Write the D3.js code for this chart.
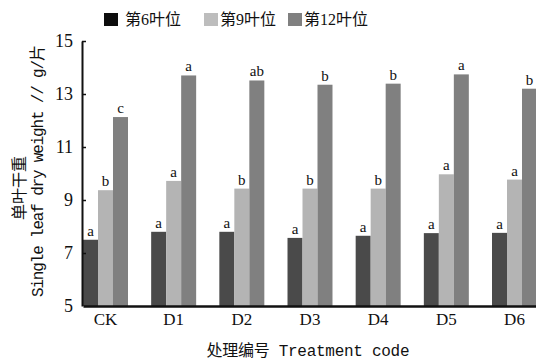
<!DOCTYPE html>
<html>
<head>
<meta charset="utf-8">
<script src="https://cdn.jsdelivr.net/npm/d3@7/dist/d3.min.js"></script>
<style>
  html, body { margin: 0; padding: 0; background: #fff; }
  svg { display: block; }
  text { fill: #111; }
</style>
</head>
<body>
<svg id="chart" width="536" height="360"></svg>
<script>
// Treatments and leaf positions
const categories = ["CK", "D1", "D2", "D3", "D4", "D5", "D6"];
const seriesNames = ["第6叶位", "第9叶位", "第12叶位"];

// Single leaf dry weight (g per leaf)
const leaf6 = [7.50, 7.80, 7.80, 7.57, 7.65, 7.75, 7.76];
const leaf9 = [9.37, 9.72, 9.43, 9.43, 9.43, 9.97, 9.77];
const leaf12 = [12.13, 13.70, 13.51, 13.35, 13.39, 13.74, 13.20];

// Significance letters
const sig6 = ["a", "a", "a", "a", "a", "a", "a"];
const sig9 = ["b", "a", "b", "b", "b", "a", "a"];
const sig12 = ["c", "a", "ab", "b", "b", "a", "b"];

const yTicks = [5, 7, 9, 11, 13, 15];

const barColors = ["#4a4a4a", "#b4b4b4", "#808080"];
const legendColors = ["#0d0d0d", "#bdbdbd", "#808080"];
const serifFont = "'Liberation Serif', 'Noto Sans CJK SC', serif";
const titleFont = "'Liberation Mono', 'Noto Sans CJK SC', monospace";

const seriesValues = [leaf6, leaf9, leaf12];
const seriesSig = [sig6, sig9, sig12];

const svg = d3.select("#chart");

const x = d3.scaleBand().domain(categories).range([83, 537]).paddingInner(0.34).paddingOuter(0);
const xs = d3.scaleBand().domain(d3.range(seriesNames.length)).range([0, x.bandwidth()]);
const y = d3.scaleLinear().domain([5, 15]).range([306, 41]);

// Bars grouped by treatment
const groups = svg.append("g").selectAll("g")
  .data(categories)
  .join("g")
  .attr("transform", d => `translate(${x(d)},0)`);

groups.selectAll("rect")
  .data((c, i) => seriesValues.map((vals, s) => ({ s, v: vals[i], sig: seriesSig[s][i] })))
  .join("rect")
  .attr("x", d => xs(d.s))
  .attr("y", d => y(d.v))
  .attr("width", xs.bandwidth())
  .attr("height", d => y(5) - y(d.v))
  .attr("fill", d => barColors[d.s]);

groups.selectAll("text.sig")
  .data((c, i) => seriesValues.map((vals, s) => ({ s, v: vals[i], sig: seriesSig[s][i] })))
  .join("text")
  .attr("class", "sig")
  .attr("x", d => xs(d.s) + xs.bandwidth() / 2)
  .attr("y", d => y(d.v) - 4)
  .attr("text-anchor", "middle")
  .style("font-family", serifFont)
  .style("font-size", "15px")
  .text(d => d.sig);

// Y axis with inward ticks
const yAxis = svg.append("g")
  .attr("transform", `translate(${x.range()[0] - 1},0)`)
  .call(d3.axisLeft(y).tickValues(yTicks).tickSizeInner(-4).tickSizeOuter(0).tickPadding(9).tickFormat(d3.format("d")));
yAxis.select(".domain").attr("stroke", "#111").attr("stroke-width", 2);
yAxis.selectAll(".tick line").attr("stroke", "#111").attr("stroke-width", 1.5);
yAxis.selectAll(".tick").filter(d => d === 5).select("line").remove();
yAxis.selectAll(".tick text")
  .style("font-family", serifFont)
  .style("font-size", "18px")
  .attr("fill", "#111");

// X axis
const xAxis = svg.append("g")
  .attr("transform", `translate(0,${y(5)})`)
  .call(d3.axisBottom(x).tickSize(0).tickPadding(7));
xAxis.select(".domain").attr("stroke", "#111").attr("stroke-width", 2.5);
xAxis.selectAll(".tick text")
  .style("font-family", serifFont)
  .style("font-size", "17px")
  .attr("fill", "#111");

// Axis titles
svg.append("text")
  .attr("x", 308)
  .attr("y", 356)
  .attr("text-anchor", "middle")
  .style("font-family", titleFont)
  .style("font-size", "16px")
  .attr("textLength", 203)
  .text("处理编号 Treatment code");

svg.append("text")
  .attr("transform", "translate(25,188) rotate(-90)")
  .attr("text-anchor", "middle")
  .style("font-family", titleFont)
  .style("font-size", "16px")
  .text("单叶干重");

svg.append("text")
  .attr("transform", "translate(43,171) rotate(-90)")
  .attr("text-anchor", "middle")
  .style("font-family", titleFont)
  .style("font-size", "16px")
  .attr("textLength", 252)
  .text("Single leaf dry weight // g/片");

// Legend
const legendX = [104, 204, 288];
const legend = svg.append("g").selectAll("g")
  .data(seriesNames)
  .join("g")
  .attr("transform", (d, i) => `translate(${legendX[i]},13)`);
legend.append("rect")
  .attr("width", 14).attr("height", 13)
  .attr("fill", (d, i) => legendColors[i]);
legend.append("text")
  .attr("x", (d, i) => i === 0 ? 21 : 16)
  .attr("y", 12)
  .style("font-family", serifFont)
  .style("font-size", "16px")
  .text(d => d);
</script>
</body>
</html>
